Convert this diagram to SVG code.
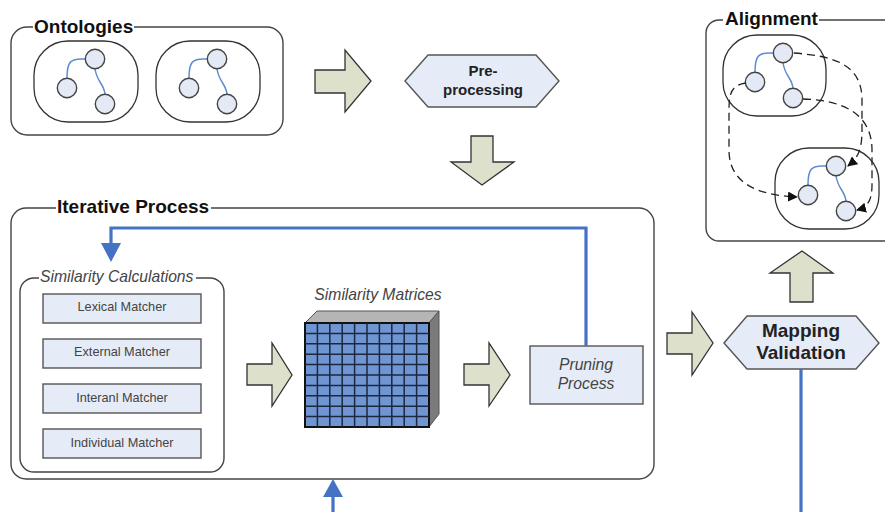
<svg xmlns="http://www.w3.org/2000/svg" width="885" height="512" viewBox="0 0 885 512">
<defs>
<style>
text{font-family:"Liberation Sans",Arial,sans-serif;fill:#222}
.box{fill:#fff;stroke:#444;stroke-width:1.4}
.blob{fill:#fff;stroke:#333;stroke-width:1.3}
.head{font-size:19px;font-weight:bold;fill:#111}
.hex{fill:#e6ecf7;stroke:#555;stroke-width:1.4}
.arrow{fill:#dde1cc;stroke:#333;stroke-width:1.3}
.m{fill:#e6ecf7;stroke:#555;stroke-width:1.4}
.mt{font-size:12.7px;text-anchor:middle;fill:#444}
.it{font-style:italic;font-size:15.7px;fill:#444}
.c{fill:#e3eaf6;stroke:#444;stroke-width:1.4}
.e{fill:none;stroke:#5f8dcf;stroke-width:1.5}
.d{fill:none;stroke:#222;stroke-width:1.3;stroke-dasharray:8 5}
.b{fill:none;stroke:#4472c4;stroke-width:3.2}
.g{stroke:#1c2740;stroke-width:1.5}
</style>
<marker id="dh" markerWidth="12" markerHeight="12" refX="9" refY="5" orient="auto" markerUnits="userSpaceOnUse"><path d="M0 0L10 5L0 10z" fill="#111"/></marker>
<g id="tree"><path class="e" d="M85 59C70 58 67 62 67 78"/><path class="e" d="M95 69C97 82 104 84 105 94"/><circle class="c" cx="95" cy="59" r="9.7"/><circle class="c" cx="67" cy="88" r="9.7"/><circle class="c" cx="105" cy="104" r="9.7"/></g>
</defs>
<rect width="885" height="512" fill="#fff"/>
<g id="ontologies">
<rect class="box" x="11" y="27" width="272" height="108" rx="16"/>
<rect x="33" y="18" width="101" height="18" fill="#fff"/>
<text class="head" x="34" y="33">Ontologies</text>
<rect class="blob" x="34" y="41" width="104" height="81" rx="34"/>
<rect class="blob" x="156" y="41" width="104" height="81" rx="34"/>
<use href="#tree"/><use href="#tree" x="122"/>
</g>
<g id="preprocessing">
<path class="hex" d="M405 81L428 55H536L559 81L536 107H428Z"/>
<text x="483" y="76" text-anchor="middle" font-size="15" font-weight="bold">Pre-</text>
<text x="483" y="95" text-anchor="middle" font-size="15" font-weight="bold">processing</text>
</g>
<g id="alignment">
<rect class="box" x="706" y="20" width="200" height="221" rx="13"/>
<rect x="723" y="10" width="96" height="18" fill="#fff"/>
<text class="head" x="725" y="25">Alignment</text>
<rect class="blob" x="723" y="35" width="103" height="81" rx="34"/>
<rect class="blob" x="775" y="148" width="104" height="81" rx="34"/>
<use href="#tree" x="688" y="-6"/>
<use href="#tree" x="741" y="107"/>
</g>
<g id="iterative-process">
<rect class="box" x="11" y="208" width="643" height="271" rx="15"/>
<rect x="56" y="198" width="155" height="18" fill="#fff"/>
<text class="head" x="57" y="213">Iterative Process</text>
</g>
<g id="similarity-calculations">
<rect class="box" x="20" y="278" width="204" height="194" rx="14"/>
<rect x="39" y="272" width="157" height="12" fill="#fff"/>
<text class="it" x="40" y="282">Similarity Calculations</text>
<rect class="m" x="43" y="294" width="158" height="29"/><text class="mt" x="122" y="311">Lexical Matcher</text>
<rect class="m" x="43" y="339" width="158" height="29"/><text class="mt" x="122" y="356">External Matcher</text>
<rect class="m" x="43" y="384" width="158" height="29"/><text class="mt" x="122" y="402">Interanl Matcher</text>
<rect class="m" x="43" y="429" width="158" height="29"/><text class="mt" x="122" y="447">Individual Matcher</text>
</g>
<g id="similarity-matrices">
<text class="it" x="378" y="300" text-anchor="middle">Similarity Matrices</text>
<path d="M305 323L317 311H439L429 323Z" fill="#b5b5b5" stroke="#555"/>
<path d="M429 323L439 311V414L429 427Z" fill="#7b7b7b" stroke="#555"/>
<rect x="305" y="323" width="124" height="104" fill="#6f96d2" stroke="#111" stroke-width="2"/>
<path class="g" d="M317.400 323V427M329.800 323V427M342.200 323V427M354.600 323V427M367 323V427M379.400 323V427M391.800 323V427M404.200 323V427M416.600 323V427M305 333.400H429M305 343.800H429M305 354.200H429M305 364.600H429M305 375H429M305 385.400H429M305 395.800H429M305 406.200H429M305 416.600H429"/>
</g>
<g id="pruning-process">
<rect class="m" x="530" y="346" width="113" height="58"/>
<text class="it" x="586" y="370" text-anchor="middle">Pruning</text>
<text class="it" x="586" y="389" text-anchor="middle">Process</text>
</g>
<g id="mapping-validation">
<path class="hex" d="M724 343L747 316H856L879 343L856 369H747Z"/>
<text x="801" y="337" text-anchor="middle" font-size="19" font-weight="bold">Mapping</text>
<text x="801" y="359" text-anchor="middle" font-size="19" font-weight="bold">Validation</text>
</g>
<g id="connectors">
<path class="arrow" d="M315 70H345V50L371 81L345 112V93H315Z"/>
<path class="arrow" d="M471 136H493V162H514L482 185L451 162H471Z"/>
<path class="arrow" d="M247 364H272V343L292 375L272 406V385H247Z"/>
<path class="arrow" d="M464 364H489V343L510 375L489 406V385H464Z"/>
<path class="arrow" d="M667 333H692V312L713 343L692 375V354H667Z"/>
<path class="arrow" d="M802 251L833 273H813V302H790V273H770Z"/>
<path class="b" d="M586 346V228H111V244"/>
<path d="M101 243H121L111 262Z" fill="#4472c4"/>
<path class="b" d="M801 369V512"/>
<path class="b" d="M333 496V512"/>
<path d="M323 497H343L333 479Z" fill="#4472c4"/>
<path class="d" marker-end="url(#dh)" d="M794 53C830 56 862 62 862 100V130C862 150 858 158 848 166"/>
<path class="d" marker-end="url(#dh)" d="M803 99C840 100 872 112 872 150V185C872 200 868 207 857 210"/>
<path class="d" marker-end="url(#dh)" d="M746 83C732 85 729 92 729 110V150C729 182 755 195 797 197"/>
</g>
</svg>
